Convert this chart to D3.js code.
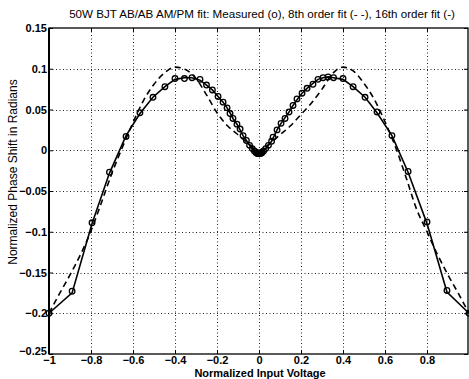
<!DOCTYPE html>
<html>
<head>
<meta charset="utf-8">
<script src="https://cdn.jsdelivr.net/npm/d3@7"></script>
<style>
body { margin: 0; background: #fff; }
text { font-family: "Liberation Sans", Arial, sans-serif; fill: #000; }
</style>
</head>
<body>
<div id="chart"></div>
<script>
// measured AM/PM points
var measX = [-1.0, -0.89, -0.795, -0.712, -0.633, -0.567, -0.505, -0.448, -0.4, -0.355, -0.319, -0.281, -0.25, -0.222, -0.195, -0.171, -0.152, -0.138, -0.124, -0.105, -0.09, -0.076, -0.06, -0.045, -0.032, -0.022, -0.014, -0.008, -0.004, 0,
	0.004, 0.008, 0.014, 0.022, 0.032, 0.045, 0.06, 0.067, 0.086, 0.105, 0.124, 0.143, 0.162, 0.181, 0.205, 0.229, 0.257, 0.281, 0.305, 0.329, 0.355, 0.4, 0.448, 0.505, 0.562, 0.633, 0.71, 0.8, 0.895, 1.0];
var measY = [-0.2, -0.173, -0.089, -0.027, 0.017, 0.046, 0.065, 0.078, 0.088, 0.088, 0.089, 0.087, 0.08, 0.074, 0.066, 0.059, 0.052, 0.045, 0.039, 0.032, 0.026, 0.018, 0.012, 0.006, 0.002, -0.001, -0.003, -0.004, -0.004, -0.004,
	-0.004, -0.004, -0.003, -0.001, 0.002, 0.006, 0.011, 0.016, 0.025, 0.033, 0.039, 0.047, 0.055, 0.063, 0.07, 0.076, 0.081, 0.087, 0.089, 0.09, 0.089, 0.088, 0.078, 0.065, 0.047, 0.018, -0.026, -0.088, -0.172, -0.2];

// 16th order fit, same x as measured
var fit16Y = [-0.2, -0.175, -0.09, -0.028, 0.018, 0.045, 0.065, 0.078, 0.087, 0.089, 0.089, 0.086, 0.08, 0.074, 0.066, 0.059, 0.052, 0.046, 0.039, 0.032, 0.025, 0.018, 0.012, 0.006, 0.002, -0.001, -0.003, -0.004, -0.004, -0.004,
	-0.004, -0.004, -0.003, -0.001, 0.002, 0.006, 0.011, 0.015, 0.025, 0.033, 0.04, 0.047, 0.055, 0.062, 0.07, 0.076, 0.082, 0.087, 0.089, 0.09, 0.089, 0.087, 0.078, 0.065, 0.046, 0.018, -0.027, -0.09, -0.174, -0.2];

// 8th order fit
var fit8X = [-1, -0.95, -0.9, -0.85, -0.8, -0.75, -0.7, -0.65, -0.6, -0.55, -0.5, -0.45, -0.4, -0.35, -0.3, -0.25, -0.2, -0.15, -0.1, -0.05, 0,
	0.05, 0.1, 0.15, 0.2, 0.25, 0.3, 0.35, 0.4, 0.45, 0.5, 0.55, 0.6, 0.65, 0.7, 0.75, 0.8, 0.85, 0.9, 0.95, 1];
var fit8Y = [-0.2, -0.176, -0.153, -0.128, -0.099, -0.064, -0.028, 0.004, 0.034, 0.061, 0.081, 0.095, 0.102, 0.099, 0.088, 0.068, 0.046, 0.03, 0.019, 0.008, 0,
	0.008, 0.019, 0.03, 0.044, 0.058, 0.075, 0.094, 0.102, 0.097, 0.082, 0.062, 0.035, 0.004, -0.033, -0.072, -0.1, -0.128, -0.153, -0.176, -0.2];

var xTicks = [-1, -0.8, -0.6, -0.4, -0.2, 0, 0.2, 0.4, 0.6, 0.8];
var yTicks = [-0.25, -0.2, -0.15, -0.1, -0.05, 0, 0.05, 0.1, 0.15];

var width = 469,
	height = 379;

var svg = d3.select("#chart")
	.append("svg")
	.attr("width", width)
	.attr("height", height);

var x = d3.scaleLinear().domain([-1, 1]).range([49, 469]);
var y = d3.scaleLinear().domain([-0.25, 0.15]).range([354, 28]);

// dotted grid
svg.selectAll(".vgrid")
	.data(xTicks.slice(1))
	.enter().append("line")
	.attr("class", "vgrid")
	.attr("x1", function(d) { return Math.round(x(d)) + 0.5; })
	.attr("x2", function(d) { return Math.round(x(d)) + 0.5; })
	.attr("y1", y(0.15))
	.attr("y2", y(-0.25))
	.style("stroke", "#222")
	.style("stroke-dasharray", "1,2.5");

svg.selectAll(".hgrid")
	.data(yTicks.slice(1, -1))
	.enter().append("line")
	.attr("class", "hgrid")
	.attr("x1", x(-1))
	.attr("x2", x(1))
	.attr("y1", function(d) { return Math.round(y(d)) + 0.5; })
	.attr("y2", function(d) { return Math.round(y(d)) + 0.5; })
	.style("stroke", "#222")
	.style("stroke-dasharray", "1,2.5");

// axes with inside ticks
svg.append("g")
	.attr("transform", "translate(0," + y(-0.25) + ")")
	.call(d3.axisBottom(x).tickValues(xTicks).tickSizeInner(-4).tickSizeOuter(0).tickPadding(2).tickFormat(d3.format("")))
	.call(function(g) { g.select(".domain").remove(); });

svg.append("g")
	.attr("transform", "translate(0," + y(0.15) + ")")
	.call(d3.axisTop(x).tickValues(xTicks).tickSizeInner(-4).tickSizeOuter(0).tickFormat(""))
	.call(function(g) { g.select(".domain").remove(); });

svg.append("g")
	.attr("transform", "translate(" + x(-1) + ",0)")
	.call(d3.axisLeft(y).tickValues(yTicks).tickSizeInner(-4).tickSizeOuter(0).tickPadding(2).tickFormat(d3.format("")))
	.call(function(g) { g.select(".domain").remove(); })
	// lowest label sits just above the "-1", as in the original
	.call(function(g) { g.selectAll(".tick text").filter(function(d) { return d === -0.25; }).attr("y", -3); });

svg.append("g")
	.attr("transform", "translate(" + (x(1) - 1) + ",0)")
	.call(d3.axisRight(y).tickValues(yTicks).tickSizeInner(-4).tickSizeOuter(0).tickFormat(""))
	.call(function(g) { g.select(".domain").remove(); });

svg.selectAll(".tick line").style("stroke", "#000");
svg.selectAll(".tick text")
	.style("font-size", "11px")
	.style("font-weight", "bold")
	.style("font-family", "Liberation Sans, Arial, sans-serif");

// frame
svg.append("rect")
	.attr("x", x(-1))
	.attr("y", y(0.15))
	.attr("width", x(1) - x(-1) - 1)
	.attr("height", y(-0.25) - y(0.15))
	.style("fill", "none")
	.style("stroke", "#000")
	.style("stroke-width", 1.3);

svg.append("line")
	.attr("x1", x(-1)).attr("x2", x(-1))
	.attr("y1", y(0.15)).attr("y2", y(-0.25))
	.style("stroke", "#000")
	.style("stroke-width", 2);

// curves
var fit8 = fit8X.map(function(d, i) { return [d, fit8Y[i]]; });
var fit16 = measX.map(function(d, i) { return [d, fit16Y[i]]; });
var meas = measX.map(function(d, i) { return [d, measY[i]]; });

var line = d3.line()
	.x(function(d) { return x(d[0]); })
	.y(function(d) { return y(d[1]); });

svg.append("path")
	.datum(fit8)
	.attr("d", line.curve(d3.curveMonotoneX))
	.style("fill", "none")
	.style("stroke", "#000")
	.style("stroke-width", 1.6)
	.style("stroke-dasharray", "6,4");

svg.append("path")
	.datum(fit16)
	.attr("d", line.curve(d3.curveLinear))
	.style("fill", "none")
	.style("stroke", "#000")
	.style("stroke-width", 1.6);

svg.selectAll(".meas")
	.data(meas)
	.enter().append("circle")
	.attr("class", "meas")
	.attr("cx", function(d) { return x(d[0]); })
	.attr("cy", function(d) { return y(d[1]); })
	.attr("r", 2.8)
	.style("fill", "none")
	.style("stroke", "#000")
	.style("stroke-width", 1.3);

// labels
svg.append("text")
	.attr("x", 262)
	.attr("y", 18)
	.attr("text-anchor", "middle")
	.style("font-size", "11.6px")
	.text("50W BJT AB/AB AM/PM fit: Measured (o), 8th order fit (- -), 16th order fit (-)");

svg.append("text")
	.attr("x", 260)
	.attr("y", 377)
	.attr("text-anchor", "middle")
	.style("font-size", "11px")
	.style("font-weight", "bold")
	.text("Normalized Input Voltage");

svg.append("text")
	.attr("transform", "translate(17,172) rotate(-90)")
	.attr("text-anchor", "middle")
	.style("font-size", "12px")
	.text("Normalized Phase Shift in Radians");
</script>
</body>
</html>
